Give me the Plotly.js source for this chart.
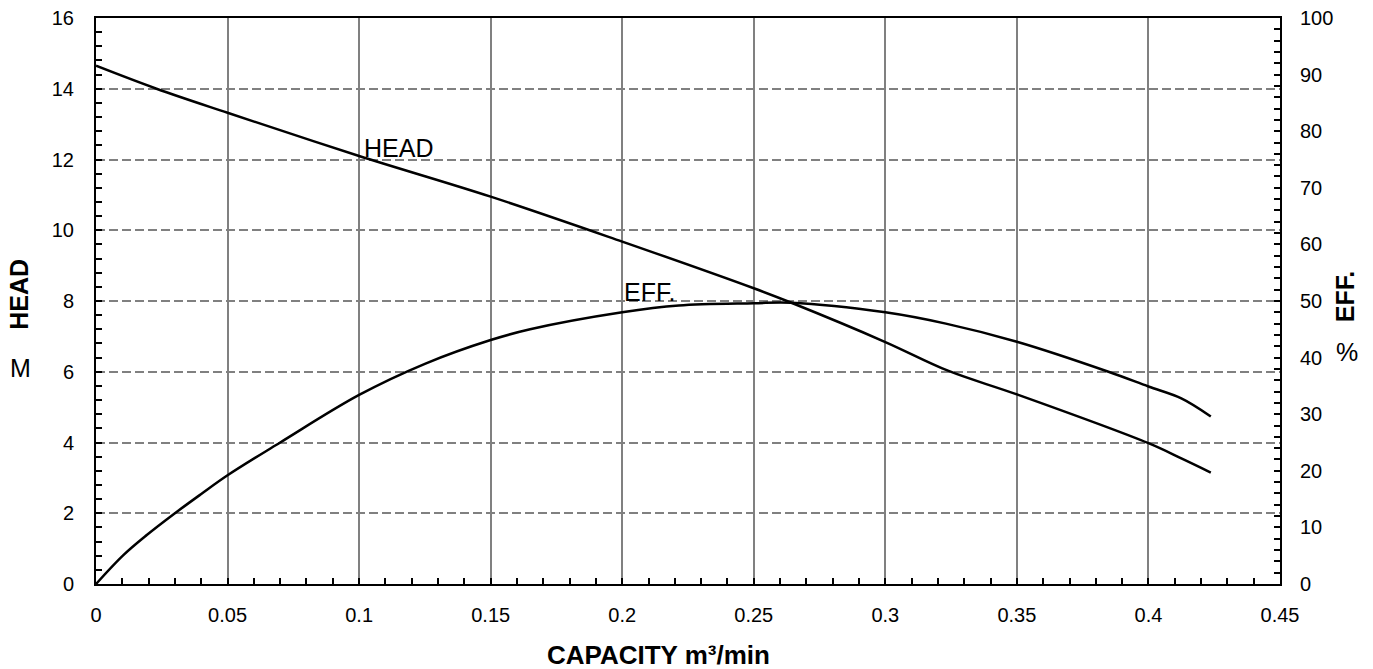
<!DOCTYPE html>
<html>
<head>
<meta charset="utf-8">
<script src="https://cdn.plot.ly/plotly-3.0.1.min.js"></script>
<style>html,body{margin:0;padding:0;background:#fff;}#chart{width:1373px;height:669px;}</style>
</head>
<body>
<div id="chart"></div>
<script>
// Capacity (m3/min) and HEAD (m)
const headFlow = [0, 0.023, 0.05, 0.1, 0.15, 0.2, 0.25, 0.2643, 0.3, 0.3238, 0.35, 0.4, 0.4125, 0.4237];
const headValues = [14.65, 14.0, 13.32, 12.1, 10.95, 9.68, 8.36, 7.95, 6.84, 6.03, 5.36, 3.98, 3.55, 3.15];
// Capacity (m3/min) and efficiency (%)
const effFlow = [0, 0.0104, 0.0193, 0.03, 0.04, 0.05, 0.07, 0.1, 0.125, 0.15, 0.165, 0.2, 0.2215, 0.25, 0.264, 0.3, 0.323, 0.35, 0.3848, 0.4, 0.4125, 0.4237];
const effValues = [0, 5.1, 8.65, 12.5, 15.9, 19.2, 25.0, 33.4, 38.9, 43.1, 45.0, 48.0, 49.2, 49.6, 49.7, 48.0, 46.0, 42.8, 37.5, 34.9, 32.8, 29.6];
const xTicks = [0, 0.05, 0.1, 0.15, 0.2, 0.25, 0.3, 0.35, 0.4, 0.45];
const headTicks = [0, 2, 4, 6, 8, 10, 12, 14, 16];
const effTicks = [0, 10, 20, 30, 40, 50, 60, 70, 80, 90, 100];

const font = 'Liberation Sans, Arial, sans-serif';
const traces = [
  {x: headFlow, y: headValues, type: 'scatter', mode: 'lines', name: 'HEAD',
   line: {color: '#000', width: 2.5, shape: 'spline', smoothing: 1}, yaxis: 'y'},
  {x: effFlow, y: effValues, type: 'scatter', mode: 'lines', name: 'EFF.',
   line: {color: '#000', width: 2.5, shape: 'spline', smoothing: 1}, yaxis: 'y2'}
];

const tickCommon = {ticks: 'inside', ticklen: 6, tickwidth: 2, tickcolor: '#000'};

const layout = {
  width: 1373, height: 669,
  margin: {l: 96, r: 93, t: 18, b: 85},
  paper_bgcolor: '#fff', plot_bgcolor: '#fff',
  showlegend: false,
  font: {family: font, size: 20, color: '#000'},
  xaxis: Object.assign({
    range: [0, 0.45], tickvals: xTicks, ticktext: xTicks.map(String),
    showgrid: true, gridcolor: '#808080', gridwidth: 2,
    zeroline: false, showline: true, linecolor: '#000', linewidth: 2, mirror: true,
    minor: Object.assign({dtick: 0.01, showgrid: false}, tickCommon),
    tickfont: {size: 20, family: font}, ticklabelstandoff: 12
  }, tickCommon),
  yaxis: Object.assign({
    range: [0, 16], tickvals: headTicks, ticktext: headTicks.map(String),
    showgrid: true, gridcolor: '#808080', gridwidth: 2, griddash: '9px,4px',
    zeroline: false, showline: true, linecolor: '#000', linewidth: 2,
    minor: Object.assign({dtick: 0.4, showgrid: false}, tickCommon),
    tickfont: {size: 20, family: font}, ticklabelstandoff: 16
  }, tickCommon),
  yaxis2: Object.assign({
    range: [0, 100], tickvals: effTicks, ticktext: effTicks.map(String),
    overlaying: 'y', side: 'right', showgrid: false,
    zeroline: false, showline: true, linecolor: '#000', linewidth: 2,
    minor: Object.assign({dtick: 2, showgrid: false}, tickCommon),
    tickfont: {size: 20, family: font}, ticklabelstandoff: 14
  }, tickCommon),
  annotations: [
    {text: 'HEAD', xref: 'x', yref: 'y', x: 0.101, y: 12.32, xanchor: 'left', yanchor: 'middle', showarrow: false, font: {size: 25, family: font}},
    {text: 'EFF.', xref: 'x', yref: 'y', x: 0.2, y: 8.25, xanchor: 'left', yanchor: 'middle', showarrow: false, font: {size: 25, family: font}},
    {text: '<b>HEAD</b>', xref: 'paper', yref: 'paper', x: -0.065, y: 0.511, textangle: -90, showarrow: false, font: {size: 25, family: font}, xanchor: 'center', yanchor: 'middle'},
    {text: 'M', xref: 'paper', yref: 'paper', x: -0.064, y: 0.382, showarrow: false, font: {size: 25, family: font}, xanchor: 'center', yanchor: 'middle'},
    {text: '<b>EFF.</b>', xref: 'paper', yref: 'paper', x: 1.055, y: 0.507, textangle: -90, showarrow: false, font: {size: 25, family: font}, xanchor: 'center', yanchor: 'middle'},
    {text: '%', xref: 'paper', yref: 'paper', x: 1.057, y: 0.41, showarrow: false, font: {size: 25, family: font}, xanchor: 'center', yanchor: 'middle'},
    {text: '<b>CAPACITY m³/min</b>', xref: 'paper', yref: 'paper', x: 0.4755, y: -0.125, showarrow: false, font: {size: 26, family: font}, xanchor: 'center', yanchor: 'middle'}
  ]
};

Plotly.newPlot('chart', traces, layout, {displayModeBar: false, staticPlot: true});
</script>
</body>
</html>
